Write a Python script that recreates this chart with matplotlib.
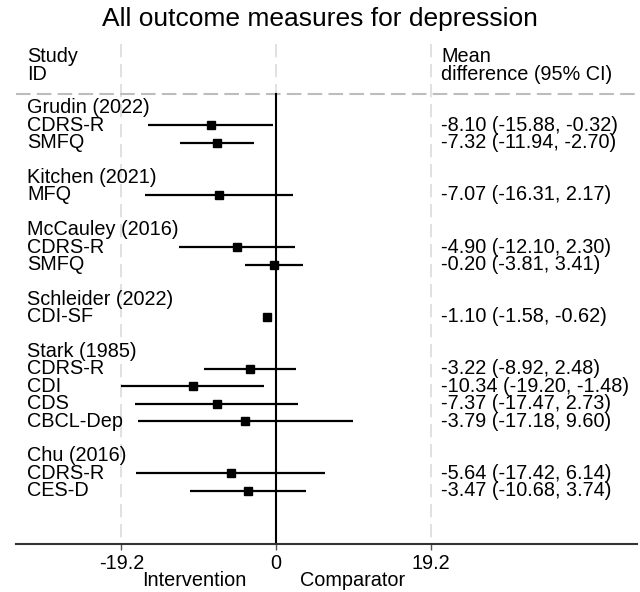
import matplotlib
matplotlib.use("Agg")
import matplotlib.pyplot as plt

# ---------------- data ----------------
studies = ["Grudin (2022)", "Kitchen (2021)", "McCauley (2016)",
           "Schleider (2022)", "Stark (1985)", "Chu (2016)"]
n_outcomes = [2, 1, 2, 1, 4, 2]
outcomes = ["CDRS-R", "SMFQ", "MFQ", "CDRS-R", "SMFQ", "CDI-SF",
            "CDRS-R", "CDI", "CDS", "CBCL-Dep", "CDRS-R", "CES-D"]
md = [-8.10, -7.32, -7.07, -4.90, -0.20, -1.10, -3.22, -10.34, -7.37, -3.79, -5.64, -3.47]
lo = [-15.88, -11.94, -16.31, -12.10, -3.81, -1.58, -8.92, -19.20, -17.47, -17.18, -17.42, -10.68]
hi = [-0.32, -2.70, 2.17, 2.30, 3.41, -0.62, 2.48, -1.48, 2.73, 9.60, 6.14, 3.74]
xticks = [-19.2, 0, 19.2]
xticklabels = ["-19.2", "0", "19.2"]

plt.rcParams['font.family'] = ['Liberation Sans', 'DejaVu Sans']
FS = 14.3

W, H = 640, 592
fig = plt.figure(figsize=(W / 100, H / 100), dpi=100)
ax = fig.add_axes([16 / W, 48 / H, (637 - 16) / W, 544 / H])

# x scale: 0 at px 276, 8.05 px per unit
x0px, ppu = 276, 8.05
ax.set_xlim((16 - x0px) / ppu, (637 - x0px) / ppu)
# y in row units: row 1 at px 108, 17.4 px per row
r1px, ppr = 108, 17.4
ax.set_ylim(1 + (544 - r1px) / ppr, 1 - r1px / ppr)

def py(px):
    return 1 + (px - r1px) / ppr

# ---------------- rows ----------------
row = 1
k = 0
text_x_left = (27 - x0px) / ppu
text_x_right = (441 - x0px) / ppu
for s, n in zip(studies, n_outcomes):
    ax.text(text_x_left, row, s, fontsize=FS, va='center', ha='left')
    row += 1
    for j in range(n):
        ax.text(text_x_left, row, outcomes[k], fontsize=FS, va='center', ha='left')
        ax.plot([lo[k], hi[k]], [row, row], color='black', lw=1.6, solid_capstyle='butt', zorder=3)
        ax.plot([md[k]], [row], marker='s', ms=5.2, color='black', zorder=4, linestyle='none')
        ax.text(text_x_right, row, f"{md[k]:.2f} ({lo[k]:.2f}, {hi[k]:.2f})",
                fontsize=FS, va='center', ha='left')
        row += 1
        k += 1
    row += 1

# grid lines (light dashed) at ticks
for t in xticks:
    ax.plot([t, t], [py(44), py(544)], color='#dcdcdc', lw=1.2,
            linestyle=(0, (8, 4)), zorder=1)
# black null line
ax.plot([0, 0], [py(94), py(544)], color='black', lw=1.5, zorder=2)
# header dashed separator
ax.plot(ax.get_xlim(), [py(94), py(94)], color='#bdbdbd', lw=1.5,
        linestyle=(0, (7, 3)), zorder=1)

# headers (two-line texts)
ax.text(text_x_left, py(65.5), "Study\nID", fontsize=FS, va='center', ha='left',
        linespacing=0.88)
ax.text(text_x_right, py(65.5), "Mean\ndifference (95% CI)", fontsize=FS, va='center',
        ha='left', linespacing=0.88)

# axes styling
for sp in ['top', 'left', 'right']:
    ax.spines[sp].set_visible(False)
ax.spines['bottom'].set_color('#333333')
ax.spines['bottom'].set_linewidth(1.5)
ax.set_yticks([])
ax.set_xticks(xticks)
ax.set_xticklabels(xticklabels, fontsize=FS)
ax.tick_params(axis='x', direction='out', length=4, width=1, color='#555555', pad=3)

ax.text((142 - x0px) / ppu, -36 / 544, "Intervention", fontsize=FS, ha='left', va='center',
        transform=ax.get_xaxis_transform())
ax.text((405 - x0px) / ppu, -36 / 544, "Comparator", fontsize=FS, ha='right', va='center',
        transform=ax.get_xaxis_transform())

fig.text(0.5, 1 - 19 / H, "All outcome measures for depression", fontsize=19,
         ha='center', va='center')

fig.savefig("out.png", dpi=100, facecolor='white')
